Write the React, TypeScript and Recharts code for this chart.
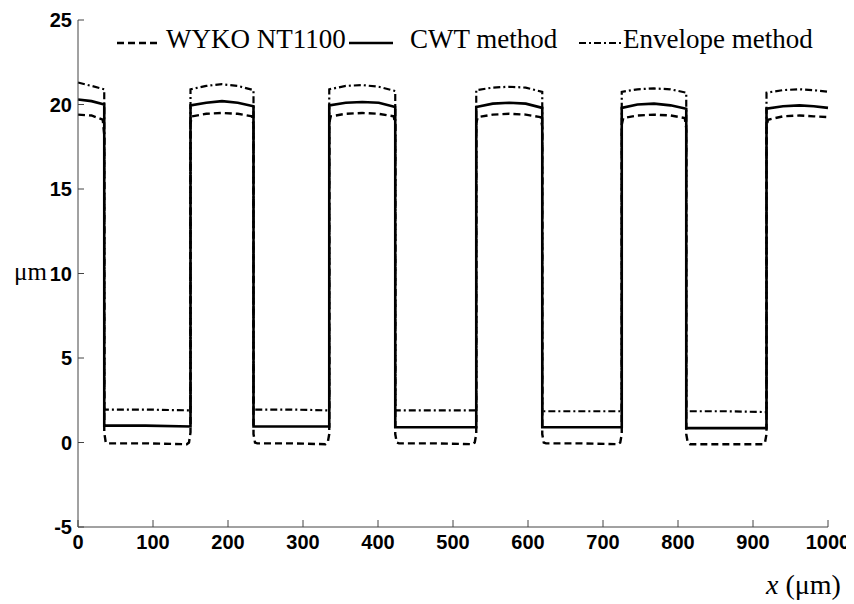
import { LineChart, Line, XAxis, YAxis } from 'recharts';

// Step profile along x (µm): [x, height µm]
const wyko: [number, number][] = [
  [0, 19.4], [18, 19.35], [33, 19.1], [35, 18.2], [35, 0.6], [37, 0.0], [40, -0.05], [90, -0.05], [145, -0.1], [148, 0.0], [150, 0.6],
  [150, 18.9], [152, 19.3], [171, 19.45], [192, 19.5], [213, 19.45], [232, 19.3], [234, 18.8],
  [234, 0.5], [236, 0.0], [239, -0.05], [285, -0.05], [330, -0.1], [333, 0.0], [335, 0.5],
  [335, 18.9], [337, 19.3], [357, 19.45], [379, 19.5], [401, 19.45], [421, 19.3], [423, 18.8],
  [423, 0.5], [425, 0.0], [428, -0.05], [478, -0.05], [526, -0.1], [529, 0.0], [531, 0.5],
  [531, 18.9], [533, 19.25], [553, 19.4], [575, 19.45], [597, 19.4], [617, 19.25], [619, 18.7],
  [619, 0.5], [621, 0.0], [624, -0.05], [672, -0.05], [720, -0.1], [723, 0.0], [725, 0.5],
  [725, 18.8], [727, 19.2], [746, 19.35], [768, 19.4], [790, 19.35], [809, 19.2], [811, 18.6],
  [811, 0.5], [813, 0.0], [816, -0.1], [864, -0.1], [913, -0.1], [916, 0.0], [918, 0.5],
  [918, 18.7], [920, 19.1], [940, 19.3], [962, 19.35], [981, 19.3], [1000, 19.25],
];

const cwt: [number, number][] = [
  [0, 20.3], [18, 20.2], [35, 20.0],
  [35, 1.0], [90, 1.0], [150, 0.95],
  [150, 19.95], [171, 20.1], [192, 20.2], [213, 20.1], [234, 19.9],
  [234, 0.95], [285, 0.95], [335, 0.95],
  [335, 19.95], [357, 20.1], [379, 20.15], [401, 20.1], [423, 19.85],
  [423, 0.9], [478, 0.9], [531, 0.9],
  [531, 19.85], [553, 20.05], [575, 20.1], [597, 20.05], [619, 19.8],
  [619, 0.9], [672, 0.9], [725, 0.9],
  [725, 19.8], [746, 20.0], [768, 20.05], [790, 19.95], [811, 19.75],
  [811, 0.85], [864, 0.85], [918, 0.85],
  [918, 19.75], [940, 19.9], [962, 19.95], [981, 19.9], [1000, 19.8],
];

const envelope: [number, number][] = [
  [0, 21.3], [18, 21.1], [35, 20.9],
  [35, 1.95], [90, 1.95], [150, 1.9],
  [150, 20.9], [171, 21.1], [192, 21.2], [213, 21.1], [234, 20.85],
  [234, 1.95], [285, 1.95], [335, 1.9],
  [335, 20.9], [357, 21.1], [379, 21.15], [401, 21.05], [423, 20.8],
  [423, 1.9], [478, 1.9], [531, 1.9],
  [531, 20.85], [553, 21.0], [575, 21.05], [597, 21.0], [619, 20.75],
  [619, 1.85], [672, 1.85], [725, 1.85],
  [725, 20.75], [746, 20.9], [768, 20.95], [790, 20.9], [811, 20.7],
  [811, 1.85], [864, 1.85], [918, 1.8],
  [918, 20.7], [940, 20.85], [962, 20.9], [981, 20.85], [1000, 20.75],
];

const xTicks = [0, 100, 200, 300, 400, 500, 600, 700, 800, 900, 1000];
const yTicks = [-5, 0, 5, 10, 15, 20, 25];

const series = [
  { name: 'WYKO NT1100', points: wyko, dash: '7 4', width: 2.4 },
  { name: 'CWT method', points: cwt, dash: undefined, width: 2.6 },
  { name: 'Envelope method', points: envelope, dash: '7 3 2 3', width: 2.2 },
];

// legend placement: [sample left, text left]
const legendPos: [number, number][] = [
  [108, 158],
  [340, 402],
  [570, 615],
];

const serif = '"Liberation Serif", "Times New Roman", serif';
const tickStyle = { fontFamily: 'Arial, "Liberation Sans", sans-serif', fontWeight: 700, fontSize: 20, fill: '#000' };

function LegendBox() {
  return (
    <>
      {series.map((s, i) => (
        <div key={s.name}>
          <svg width={46} height={10} style={{ position: 'absolute', left: legendPos[i][0], top: 30 }}>
            <line x1={1} y1={5} x2={45} y2={5} stroke="#000" strokeWidth={s.width} strokeDasharray={s.dash} />
          </svg>
          <span
            style={{
              position: 'absolute',
              left: legendPos[i][1],
              top: 16,
              fontFamily: serif,
              fontSize: 27,
              whiteSpace: 'nowrap',
            }}
          >
            {s.name}
          </span>
        </div>
      ))}
    </>
  );
}

export default function App() {
  return (
    <div style={{ position: 'relative', width: 846, height: 596 }}>
      <LineChart width={846} height={596} margin={{ top: 12, right: 26, bottom: 47, left: 0 }}>
        <XAxis
          type="number"
          dataKey="x"
          domain={[0, 1000]}
          ticks={xTicks}
          height={30}
          tickSize={-7}
          tickMargin={15}
          axisLine={{ stroke: '#444', strokeWidth: 1 }}
          tickLine={{ stroke: '#444' }}
          tick={tickStyle}
        />
        <YAxis
          type="number"
          dataKey="y"
          domain={[-5, 25]}
          ticks={yTicks}
          width={70}
          tickSize={-6}
          tickMargin={12}
          axisLine={{ stroke: '#444', strokeWidth: 1 }}
          tickLine={{ stroke: '#444' }}
          tick={tickStyle}
        />
        {series.map((s) => (
          <Line
            key={s.name}
            name={s.name}
            data={s.points.map(([x, y]) => ({ x, y }))}
            dataKey="y"
            type="linear"
            stroke="#000"
            strokeWidth={s.width}
            strokeDasharray={s.dash}
            dot={false}
            activeDot={false}
            isAnimationActive={false}
          />
        ))}
      </LineChart>
      <LegendBox />
      <div style={{ position: 'absolute', left: 6, top: 250, fontFamily: serif, fontSize: 25 }}>μm</div>
      <div style={{ position: 'absolute', left: 758, top: 561, fontFamily: serif, fontSize: 28, whiteSpace: 'nowrap' }}>
        <i>x</i> (μm)
      </div>
    </div>
  );
}
